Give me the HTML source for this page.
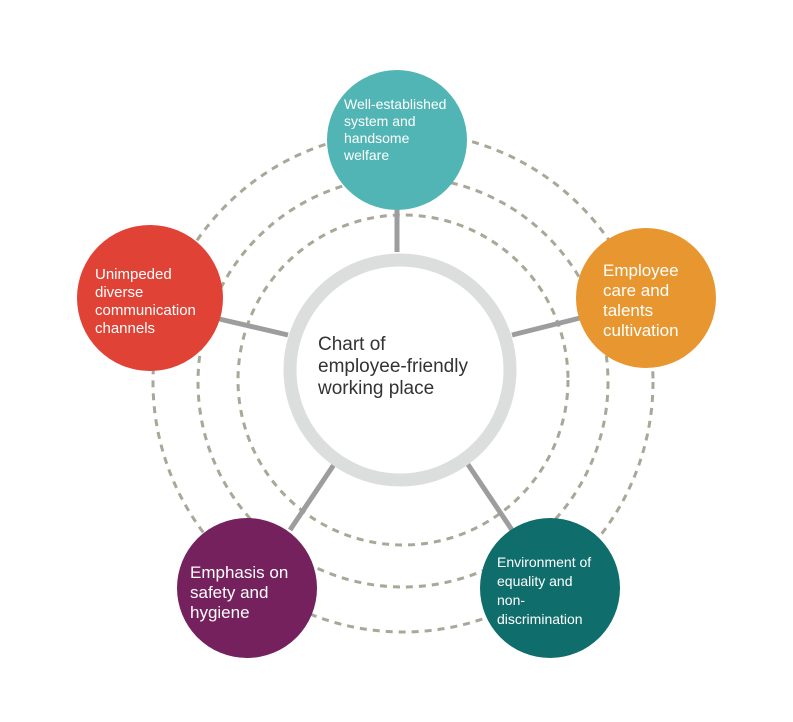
<!DOCTYPE html>
<html><head><meta charset="utf-8"><style>
body{margin:0;background:#fff;}
svg text{font-family:"Liberation Sans",sans-serif;}
</style></head><body>
<svg width="793" height="717" viewBox="0 0 793 717" xmlns="http://www.w3.org/2000/svg">
<g fill="none" stroke="#a9a797" stroke-width="3" stroke-dasharray="7,6">
<circle cx="403" cy="382" r="250"/>
<circle cx="403" cy="382" r="205"/>
<circle cx="403" cy="380" r="165"/>
</g>
<g stroke="#9d9d9d" stroke-width="5">
<line x1="397" y1="200" x2="397" y2="252"/>
<line x1="580" y1="318" x2="512" y2="335"/>
<line x1="215" y1="318" x2="288" y2="335"/>
<line x1="290" y1="530" x2="335" y2="463"/>
<line x1="512" y1="530" x2="467" y2="463"/>
</g>
<circle cx="400" cy="370" r="110" fill="#fff" stroke="#dcdddd" stroke-width="13"/>
<text x="318" y="350" font-size="19" fill="#333">Chart of</text>
<text x="318" y="372" font-size="19" fill="#333">employee-friendly</text>
<text x="318" y="394" font-size="19" fill="#333">working place</text>
<circle cx="397" cy="140" r="70" fill="#52b5b5"/>
<circle cx="646" cy="298" r="70" fill="#e8962f"/>
<circle cx="150" cy="298" r="73" fill="#e04235"/>
<circle cx="247" cy="588" r="70" fill="#74215e"/>
<circle cx="550" cy="588" r="70" fill="#0f6e6c"/>
<g fill="#fff">
<text font-size="14"><tspan x="344" y="109">Well-established</tspan><tspan x="344" y="126">system and</tspan><tspan x="344" y="143">handsome</tspan><tspan x="344" y="160">welfare</tspan></text>
<text font-size="17"><tspan x="603" y="276">Employee</tspan><tspan x="603" y="296">care and</tspan><tspan x="603" y="316">talents</tspan><tspan x="603" y="336">cultivation</tspan></text>
<text font-size="15"><tspan x="95" y="279">Unimpeded</tspan><tspan x="95" y="297">diverse</tspan><tspan x="95" y="315">communication</tspan><tspan x="95" y="333">channels</tspan></text>
<text font-size="17"><tspan x="190" y="578">Emphasis on</tspan><tspan x="190" y="598">safety and</tspan><tspan x="190" y="618">hygiene</tspan></text>
<text font-size="14"><tspan x="497" y="567">Environment of</tspan><tspan x="497" y="586">equality and</tspan><tspan x="497" y="605">non-</tspan><tspan x="497" y="624">discrimination</tspan></text>
</g>
</svg>
</body></html>
